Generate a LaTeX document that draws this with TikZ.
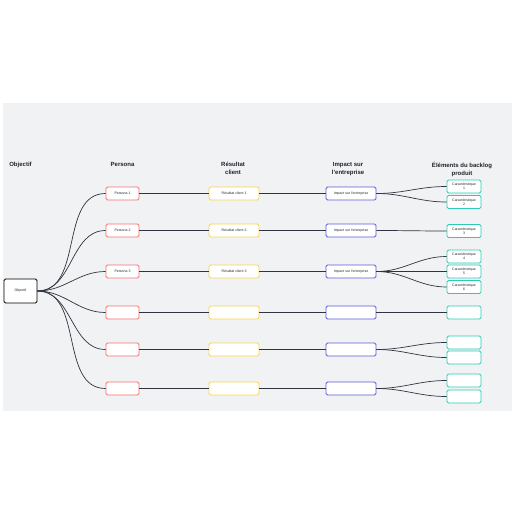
\documentclass[tikz,border=0pt]{standalone}
\usepackage{fontspec}
\setmainfont{Liberation Sans}
\usepackage{xcolor}

\definecolor{panelgray}{HTML}{F1F2F4}
\definecolor{linkgray}{HTML}{2F343E}
\definecolor{textdark}{HTML}{1F2328}
\definecolor{personared}{HTML}{F87171}
\definecolor{resyellow}{HTML}{FBD54E}
\definecolor{impblue}{HTML}{5A5BD6}
\definecolor{carteal}{HTML}{2CCCB4}

\begin{document}
\begin{tikzpicture}[x=1pt,y=-1pt,font=\fontsize{3.5}{4.1}\selectfont,text=textdark]
    \tikzset{
        cell/.style={draw,fill=white,rounded corners=1.5pt,line width=0.85pt,
                     minimum height=13pt,inner sep=1pt,align=center},
        persona/.style={cell,draw=personared,minimum width=33pt},
        resultat/.style={cell,draw=resyellow,minimum width=50pt},
        impact/.style={cell,draw=impblue,minimum width=50pt},
        carac/.style={cell,draw=carteal,minimum width=34pt},
        colhead/.style={font=\fontsize{6}{7.5}\selectfont\bfseries,align=center,anchor=north},
        link/.style={draw=linkgray,line width=0.7pt},
    }
    \useasboundingbox (0,0) rectangle (516,516);

    % canvas panel
    \fill[panelgray] (3,103) rectangle (512,411);

    % column headers
    \node[colhead] (hobj) at (20.5,159) {Objectif};
    \node[colhead] (hpers) at (122.5,159) {Persona};
    \node[colhead] (hres) at (233,159) {Résultat\\client};
    \node[colhead] (himp) at (348,159) {Impact sur\\l'entreprise};
    \node[colhead] (hcar) at (462,159) {Éléments du backlog\\produit};

    % objective
    \node[cell,draw=black,minimum width=33pt,minimum height=24pt] (obj) at (20.5,291) {Objectif};

    % rows with labels
    \foreach \r/\y in {1/193.5,2/230.5,3/271.5} {
        \node[persona] (pers\r) at (122.5,\y) {Persona \r};
        \node[resultat] (res\r) at (234,\y) {Résultat client \r};
        \node[impact] (imp\r) at (351,\y) {Impact sur l'entreprise};
    }
    % empty rows
    \foreach \r/\y in {4/312.5,5/349.5,6/388.5} {
        \node[persona] (pers\r) at (122.5,\y) {};
        \node[resultat] (res\r) at (234,\y) {};
        \node[impact] (imp\r) at (351,\y) {};
    }

    % backlog items
    \foreach \c/\y in {1/186.5,2/202,3/231,4/256.5,5/271.5,6/287} {
        \node[carac] (car\c) at (464,\y) {Caractéristique\\\c};
    }
    \foreach \c/\y in {7/312.5,8/342.5,9/357.5,10/380.5,11/396.5} {
        \node[carac] (car\c) at (464,\y) {};
    }

    % connectors
    \foreach \r in {1,...,6} {
        \draw[link] (obj.east) to[out=0,in=180] (pers\r.west);
        \draw[link] (pers\r) -- (res\r);
        \draw[link] (res\r) -- (imp\r);
    }
    \foreach \r/\c in {1/1,1/2,2/3,3/4,3/5,3/6,4/7,5/8,5/9,6/10,6/11} {
        \draw[link] (imp\r.east) to[out=0,in=180] (car\c.west);
    }
\end{tikzpicture}
\end{document}
